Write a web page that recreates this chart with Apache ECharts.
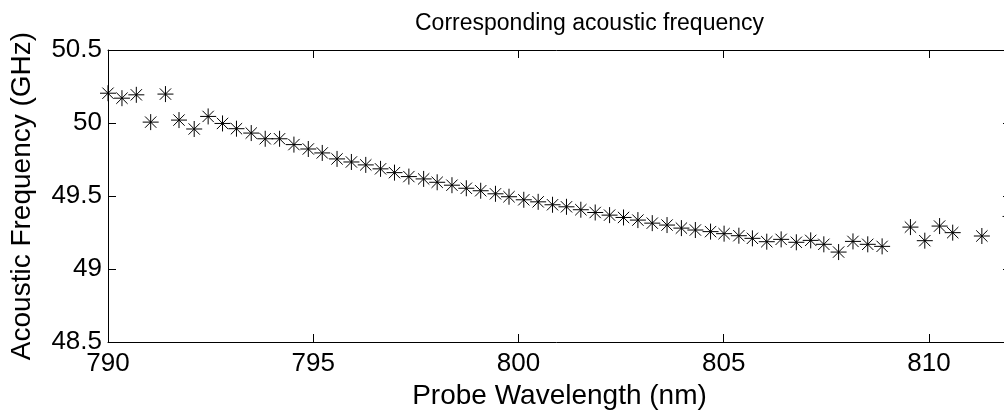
<!DOCTYPE html>
<html>
<head>
<meta charset="utf-8">
<script src="https://cdn.jsdelivr.net/npm/echarts@6/dist/echarts.min.js"></script>
<style>html,body{margin:0;padding:0;background:#fff;overflow:hidden}#c{width:1004px;height:414px}</style>
</head>
<body>
<div id="c"></div>
<script>
const wavelength = [790.00,790.34,790.69,791.04,791.40,791.73,792.10,792.44,792.79,793.13,793.49,793.83,794.18,794.53,794.88,795.22,795.58,795.93,796.28,796.64,796.98,797.33,797.69,798.02,798.38,798.73,799.08,799.44,799.77,800.13,800.48,800.83,801.17,801.52,801.87,802.22,802.56,802.91,803.26,803.62,803.97,804.31,804.68,805.01,805.37,805.70,806.05,806.40,806.77,807.12,807.44,807.80,808.15,808.51,808.86,809.55,809.90,810.26,810.58,811.29,811.99];
const frequency = [50.204,50.170,50.193,50.006,50.198,50.020,49.959,50.045,49.997,49.961,49.931,49.892,49.892,49.852,49.822,49.795,49.754,49.733,49.713,49.686,49.660,49.633,49.617,49.594,49.574,49.553,49.536,49.515,49.495,49.474,49.460,49.440,49.426,49.406,49.387,49.369,49.353,49.335,49.314,49.301,49.280,49.267,49.256,49.242,49.228,49.210,49.187,49.203,49.183,49.196,49.169,49.116,49.189,49.169,49.155,49.287,49.194,49.294,49.249,49.226,49.360];
const xTicks = [790,795,800,805,810];
const yTicks = [48.5,49,49.5,50,50.5];
const titleText = 'Corresponding acoustic frequency';
const xName = 'Probe Wavelength (nm)';
const yName = 'Acoustic Frequency (GHz)';

const font = 'Liberation Sans, Arial, Helvetica, sans-serif';
const pts = wavelength.map((x,i)=>[x,frequency[i]]);
const chart = echarts.init(document.getElementById('c'), null, {renderer:'canvas'});
const axisCommon = {
  axisLine:{show:true,lineStyle:{color:'#000',width:1}},
  axisTick:{show:true,inside:true,length:8,lineStyle:{color:'#000'}},
  splitLine:{show:false}
};
chart.setOption({
  animation:false,
  backgroundColor:'#fff',
  title:{text:titleText,left:410,top:7,
    textStyle:{fontFamily:font,fontSize:23,fontWeight:'normal',color:'#000'}},
  grid:{left:108,right:-7,top:50,bottom:72,show:false,containLabel:false,outerBoundsMode:'none'},
  xAxis:[
    Object.assign({type:'value',position:'bottom',min:790,max:812,interval:5,
      name:xName,nameLocation:'middle',nameGap:36,
      nameTextStyle:{fontFamily:font,fontSize:28,color:'#000',verticalAlign:'top'},
      axisLabel:{show:true,color:'#000',fontFamily:font,fontSize:26,margin:9,showMaxLabel:false,
        formatter:v=>xTicks.includes(v)?String(v):''}},axisCommon),
    Object.assign({type:'value',position:'top',min:790,max:812,interval:5,
      axisLabel:{show:false}},axisCommon)
  ],
  yAxis:[
    Object.assign({type:'value',position:'left',min:48.5,max:50.5,interval:0.5,
      name:yName,nameLocation:'middle',nameGap:72,
      nameTextStyle:{fontFamily:font,fontSize:28,color:'#000'},
      axisLabel:{show:true,color:'#000',fontFamily:font,fontSize:26,margin:6,
        formatter:v=>yTicks.includes(v)?String(v):''}},axisCommon),
    Object.assign({type:'value',position:'right',min:48.5,max:50.5,interval:0.5,
      axisLabel:{show:false}},axisCommon)
  ],
  series:[{
    type:'scatter',
    data:pts,
    clip:false,
    symbol:'path://M0,8L16,8M8,0L8,16M2.34,2.34L13.66,13.66M2.34,13.66L13.66,2.34',
    symbolSize:16,
    itemStyle:{color:'none',borderColor:'#000',borderWidth:1,opacity:1},
    emphasis:{disabled:true}
  }]
});
</script>
</body>
</html>
